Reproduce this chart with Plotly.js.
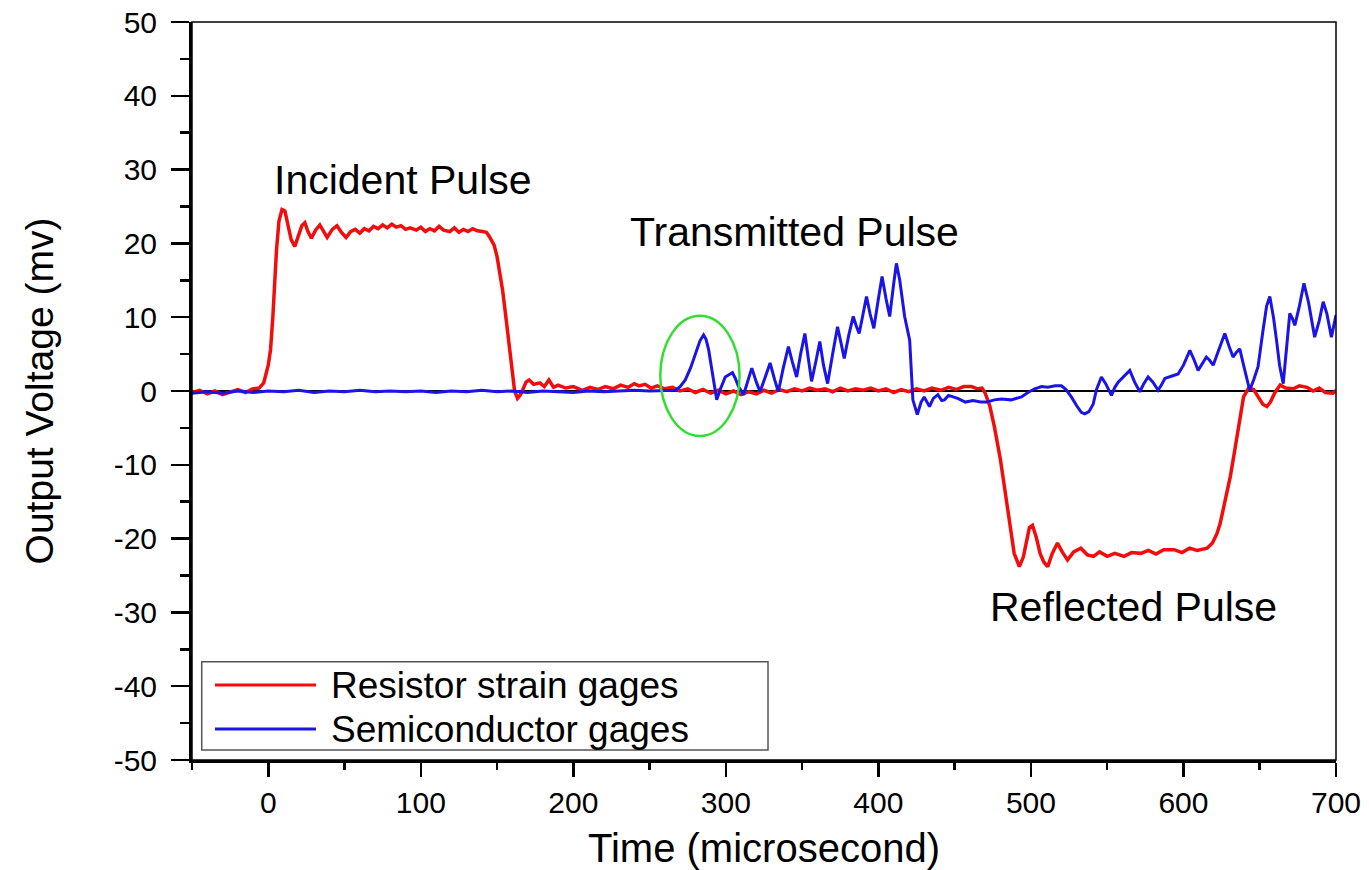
<!DOCTYPE html>
<html>
<head>
<meta charset="utf-8">
<script src="https://cdn.plot.ly/plotly-3.0.1.min.js"></script>
<style>html,body{margin:0;padding:0;background:#fff;}#chart{width:1369px;height:870px;}</style>
</head>
<body>
<div id="chart"></div>
<script>
// ---- Data ----
const resistorTime = [-50,-45,-40,-35,-30,-25,-20,-15,-10,-6,-3,0,1.5,3,4.3,5.4,7,9,10.9,13,15,17.4,20,22,24,26,28.3,31,33.8,36,38.6,42,45,48,51,54,57,60,63,66,69,72,75,78,81,84,87,90,93,97,100,103,106,109,112,115,119,122,125,128,131,134,137,140.5,143,145,148,150,152,153.6,155.5,157,158.5,160,161.5,163.4,165,166.7,169,171,174,178,181,184,187,190,195,200,206,211,216,221,226,231,236,240,243,247,251,255,260,265,270,275,280,285,290,295,300,305,310,315,320,325,330,335,340,345,350,355,360,365,370,375,380,385,390,395,400,405,410,415,420,425,430,435,441,446,451,456,461,465,468,470,473,476,480,482.5,484.8,487,489,492.4,495,497.5,499,501,503.5,506,508.5,511,514,517.4,520.5,524,528,532.7,537,541,545,550,555,561,566,572,577,582,587,594,599,604,609,615.5,619,622,624,626,628.5,630.7,633,635,637,639.4,642.7,646,649,652,654.7,657,660,663.4,667,672,676,681,685,689,693,698,700];
const resistorVolt = [-0.2,0.1,-0.4,0.0,-0.5,-0.1,0.2,-0.2,0.3,0.4,1.1,3.5,5.6,10,15,19.1,23,24.6,24.4,22.5,20.5,19.6,21,22.4,22.8,21.6,20.7,21.8,22.5,21.6,20.8,21.9,22.4,21.5,20.8,21.6,21.9,21.4,22.0,21.7,22.3,22.0,22.5,22.1,22.6,22.2,22.4,21.9,22.1,21.8,22.2,21.6,22.0,21.7,22.3,21.8,21.6,22.1,21.5,21.9,21.6,22.0,21.7,21.6,21.5,20.9,19.8,18.2,16,13.7,10.5,7.8,4.8,1.9,0,-1,-0.6,0.1,1.2,1.5,0.9,1.1,0.6,1.5,0.5,0.8,0.4,0.6,0.1,0.5,0.2,0.6,0.3,0.8,0.5,1.0,0.7,0.9,0.4,0.7,0.3,0.5,0.0,0.3,-0.2,0.2,-0.3,0.1,-0.4,0.0,-0.5,-0.1,-0.4,0.1,-0.3,0.2,-0.1,0.3,0.0,0.4,0.1,0.3,-0.1,0.4,0.0,0.3,0.1,0.4,0.0,0.3,-0.2,0.2,-0.1,0.3,0.0,0.4,0.1,0.5,0.2,0.6,0.6,0.3,0.4,-0.3,-2,-4.8,-9.3,-12.8,-16,-19.5,-22,-23.8,-22.5,-20,-18.5,-18.2,-19.8,-22,-23.2,-23.8,-22,-20.6,-21.8,-22.9,-21.8,-21.3,-22.2,-22.4,-21.8,-22.4,-22.0,-22.4,-21.9,-22.0,-21.6,-22.1,-21.5,-21.5,-21.9,-21.3,-21.6,-21.3,-20.6,-19.3,-18,-16.1,-13.8,-11.6,-8.8,-6.2,-3.5,-0.8,0.4,0.2,-0.8,-1.8,-2.1,-1.5,-0.2,0.8,0.4,0.3,0.7,0.5,0.0,0.4,-0.2,-0.3,0.1];

const semiTime = [-50,-40,-30,-20,-10,0,10,20,30,40,50,60,70,80,90,100,110,120,130,140,150,160,170,180,190,200,210,220,230,240,250,260,267,270,273.4,277,280,283,285.4,287,288.7,291,294,296.5,299.6,302,304.3,306,308.3,311.6,314,317,320,322.4,326,329,332,334.4,337.5,341,343.5,346.4,349,351.8,354,356.2,359,361.6,364,366.7,370,373.2,375.5,377.6,380.5,383.5,385.5,387.4,390,392.2,394.5,397,400,402.4,405,407.4,410,411.8,414,417.2,420.5,422.6,425.5,428,430,433.5,436,439,441.5,443.3,446,452,457,462,467,471,476,480.6,487,493.8,498,502.5,507,511,516,520,523,526.5,530,533,535.3,538,540.8,543,546.2,549,552.8,555,557.2,561,564.8,568,571.4,574,576.8,580,583.4,585.5,587.8,592,596.5,600,604.2,607,609.6,612,615,617,619.5,623,627.1,630,632.5,634.5,636.9,640,643.4,646,648.9,652,654.5,656.6,659,661,663,665.4,667.5,669.7,671.5,673,676,679,682,686,689,691.6,694,697,700];
const semiVolt = [-0.3,-0.1,-0.3,0.0,-0.2,0.0,-0.1,0.1,-0.2,0.0,-0.1,0.1,-0.1,0.0,-0.1,0.0,-0.2,0.0,-0.1,0.1,-0.1,0.0,-0.2,0.0,-0.1,-0.2,0.0,-0.1,0.0,0.1,0.0,0.1,0.1,0.6,1.5,3.2,5.1,6.8,7.6,7,5.6,2.5,-1.2,0.3,1.9,2.2,2.5,1.8,0.6,-0.5,1.2,3.1,1.2,-0.1,2.0,3.8,1.5,-0.1,3,6,4,1.9,5,7.8,4.5,1.3,4,6.7,3.5,1.0,5,8.7,6.5,4.4,7.5,10.1,8.8,7.8,10.5,12.8,10.5,8.5,12.5,15.5,12.5,10.1,14.5,17.3,15,10.1,6.9,-1.2,-3.2,-1.5,-0.8,-2.1,-1.0,-0.5,-1.3,-1.2,-0.6,-1.0,-1.5,-1.3,-1.5,-1.5,-1.2,-1.1,-1.2,-0.8,-0.2,0.3,0.6,0.5,0.7,0.7,0.2,-0.8,-2.0,-2.9,-3.1,-2.8,-1.8,0.2,1.9,1.0,-0.6,0.5,1.2,2.0,2.8,1.2,-0.1,1.0,1.9,1.2,0.1,0.8,1.7,2.0,2.3,3.5,5.5,4.2,2.8,3.6,4.6,4.2,3.5,5.5,7.8,6.0,4.6,5.2,5.7,3.0,0.1,1.5,3.3,8,11.5,12.8,10,6.9,3.5,1.0,5.5,10.5,9.8,8.9,11.5,14.6,12,7.3,9.5,12.1,10.5,7.3,10.3];

const seriesNames = ["Resistor strain gages", "Semiconductor gages"];
const seriesColors = ["#f20d0d", "#1a14e6"];
const xTickVals = [0,100,200,300,400,500,600,700];
const yTickVals = [-50,-40,-30,-20,-10,0,10,20,30,40,50];
const labelText = ["Incident Pulse", "Transmitted Pulse", "Reflected Pulse"];
const labelX = [88, 345, 567];
const labelY = [28.6, 21.5, -29.3];
const markX = [257, 309];
const markY = [-6.1, 10.2];

// ---- Chart ----
const fontFam = "Liberation Sans, Arial, sans-serif";
const traces = [
  {x: resistorTime, y: resistorVolt, name: seriesNames[0], type: "scatter", mode: "lines",
   line: {color: seriesColors[0], width: 3.5}, showlegend: false},
  {x: semiTime, y: semiVolt, name: seriesNames[1], type: "scatter", mode: "lines",
   line: {color: seriesColors[1], width: 3}, showlegend: false}
];

const annotations = labelText.map((t, i) => ({
  x: labelX[i], y: labelY[i], xref: "x", yref: "y", text: t, showarrow: false,
  font: {family: fontFam, size: 41, color: "#000"}
}));

// legend box (drawn with shapes + text, in paper coordinates)
const legBox = {x0: 0.0085, x1: 0.5035, y0: 0.0136, y1: 0.1332};
const legRowY = [0.1016, 0.042];
const legLineX = [0.0201, 0.1084];
const legTextX = 0.1195;
seriesNames.forEach((n, i) => {
  annotations.push({x: legTextX, y: legRowY[i], xref: "paper", yref: "paper", text: n,
    showarrow: false, xanchor: "left", yanchor: "middle",
    font: {family: fontFam, size: 37, color: "#000"}});
});

const shapes = [
  {type: "rect", xref: "paper", yref: "paper", x0: 0, x1: 1, y0: 0, y1: 1,
   line: {color: "#000", width: 1.5}, layer: "above"},
  {type: "circle", xref: "x", yref: "y", x0: markX[0], x1: markX[1], y0: markY[0], y1: markY[1],
   line: {color: "#33dd33", width: 2.5}, layer: "above"},
  {type: "rect", xref: "paper", yref: "paper", x0: legBox.x0, x1: legBox.x1, y0: legBox.y0, y1: legBox.y1,
   line: {color: "#555", width: 1.5}, fillcolor: "#fff", layer: "above"}
];
seriesNames.forEach((n, i) => {
  shapes.push({type: "line", xref: "paper", yref: "paper", x0: legLineX[0], x1: legLineX[1],
    y0: legRowY[i], y1: legRowY[i], line: {color: seriesColors[i], width: 3}, layer: "above"});
});

const layout = {
  width: 1369, height: 870,
  margin: {l: 192, r: 33, t: 22, b: 110, pad: 0},
  paper_bgcolor: "#fff", plot_bgcolor: "#fff",
  showlegend: false,
  xaxis: {
    range: [-50, 700], tickvals: xTickVals, ticktext: xTickVals.map(String),
    ticks: "outside", ticklen: 14, tickwidth: 2.5, tickcolor: "#000",
    minor: {dtick: 50, tick0: 0, ticks: "outside", ticklen: 7, tickwidth: 2.5, tickcolor: "#000", showgrid: false},
    showline: true, linecolor: "#000", linewidth: 3, showgrid: false, zeroline: false,
    tickfont: {family: fontFam, size: 30, color: "#000"},
    title: {text: "Time (microsecond)", font: {family: fontFam, size: 40, color: "#000"}, standoff: 17}
  },
  yaxis: {
    range: [-50, 50], tickvals: yTickVals, ticktext: yTickVals.map(String),
    ticks: "outside", ticklen: 18, tickwidth: 2.5, tickcolor: "#000",
    minor: {dtick: 5, tick0: 0, ticks: "outside", ticklen: 9, tickwidth: 2.5, tickcolor: "#000", showgrid: false},
    showline: true, linecolor: "#000", linewidth: 3, showgrid: false,
    zeroline: true, zerolinecolor: "#000", zerolinewidth: 2,
    tickfont: {family: fontFam, size: 30, color: "#000"},
    ticklabelstandoff: 8,
    title: {text: "Output Voltage (mv)", font: {family: fontFam, size: 39, color: "#000"}, standoff: 48}
  },
  annotations: annotations,
  shapes: shapes
};

Plotly.newPlot("chart", traces, layout, {staticPlot: true, displayModeBar: false});
</script>
</body>
</html>
